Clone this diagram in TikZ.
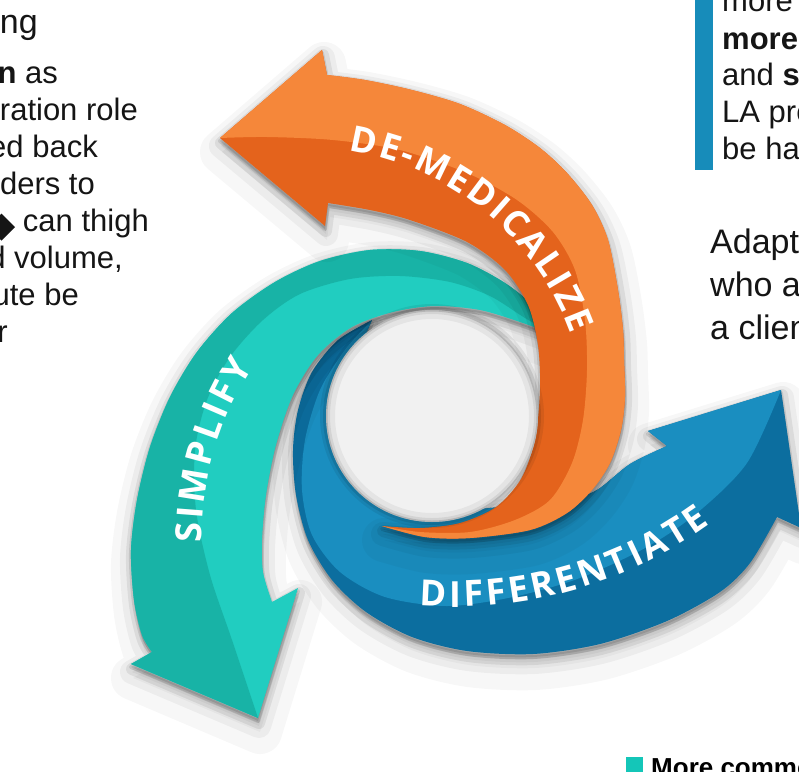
\documentclass[tikz,border=0pt]{standalone}
\usepackage{fontspec}
\setmainfont{Liberation Sans}
\newfontfamily\bandfont{Open Sans}
\usetikzlibrary{decorations.text}

\definecolor{orangeLight}{HTML}{F5873A}
\definecolor{orangeDark}{HTML}{E4631C}
\definecolor{tealDark}{HTML}{18B3A6}
\definecolor{tealLight}{HTML}{21CDC0}
\definecolor{blueLight}{HTML}{1A8EC0}
\definecolor{blueDark}{HTML}{0C6E9F}
\definecolor{diskGrey}{HTML}{F1F1F1}
\definecolor{barBlue}{HTML}{178CBA}
\definecolor{squareTeal}{HTML}{14C6B8}
\definecolor{inkText}{HTML}{151515}

\newcommand{\arcfont}{\bandfont\bfseries\fontsize{36pt}{36pt}\selectfont\color{white}}
\newcommand{\bodyfont}{\fontsize{31pt}{31pt}\selectfont\color{inkText}}
\newcommand{\leadfont}{\fontsize{34pt}{34pt}\selectfont\color{inkText}}

% Band outlines, written with y pointing down (used inside a flipped scope)
\newcommand{\OrangeShape}{plot[smooth] coordinates {(382,526) (425,537) (470,538) (530,530) (567,513) (592,490) (610,463) (621,430) (625,397) (624,360) (623,330) (618,290) (608,240) (592,205) (567,173) (540,148) (505,125) (460,104) (412,90) (365,80) (327,75)} -- (322,50) -- (220,138) -- (325,226) -- (328,203) -- plot[smooth] coordinates {(328,203) (370,210) (410,220) (467,242) (505,270) (528,305) (538,345) (540,390) (535,440) (521,479) (496,507) (460,523) (420,528) (382,526)} -- cycle}
\newcommand{\OrangeLightPart}{plot[smooth] coordinates {(382,526) (425,537) (470,538) (530,530) (567,513) (592,490) (610,463) (621,430) (625,397) (624,360) (623,330) (618,290) (608,240) (592,205) (567,173) (540,148) (505,125) (460,104) (412,90) (365,80) (327,75)} -- (322,50) -- (220,138) -- plot[smooth] coordinates {(220,138) (267,137) (333,140) (400,150) (467,173) (517,200) (553,232) (575,270) (585,320) (587,370) (583,420) (572,463) (550,500) (515,520) (470,532) (420,532) (382,526)} -- cycle}

\newcommand{\TealShape}{plot[smooth] coordinates {(555,335) (532,305) (505,283) (467,263) (420,251) (370,250) (320,261) (275,282) (232,313) (197,352) (170,397) (150,447) (137,500) (131,550) (134,600) (142,635) (152,652)} -- (131,664) -- (258,718) -- (298,588) -- (272,602) -- plot[smooth] coordinates {(272,602) (263,572) (262,540) (266,495) (276,445) (293,395) (318,355) (352,327) (393,312) (435,306) (480,310) (520,322) (555,335)} -- cycle}
\newcommand{\TealDarkPart}{plot[smooth] coordinates {(555,335) (532,305) (505,283) (467,263) (420,251) (370,250) (320,261) (275,282) (232,313) (197,352) (170,397) (150,447) (137,500) (131,550) (134,600) (142,635) (152,652)} -- (131,664) -- (258,718) -- plot[smooth] coordinates {(258,718) (232,640) (210,575) (196,510) (195,450) (207,400) (230,357) (263,320) (300,294) (350,279) (400,276) (450,282) (490,296) (525,318) (555,335)} -- cycle}

\newcommand{\BlueShape}{plot[smooth] coordinates {(372,320) (338,340) (312,372) (298,410) (293,450) (296,495) (308,540) (332,580) (366,612) (412,637) (467,651) (533,654) (600,644) (667,621) (720,592) (750,563) (777,517)} -- (801,528) -- (781,390) -- (648,431) -- (667,446) -- plot[smooth] coordinates {(667,446) (630,464) (597,490) (565,502) (530,505) (490,508) (450,512) (405,505) (365,480) (342,440) (344,390) (372,320)} -- cycle}
\newcommand{\BlueLightPart}{plot[smooth] coordinates {(372,320) (344,390) (342,440) (365,480) (405,505) (450,512) (490,508) (530,505) (565,502) (597,490) (630,464) (667,446)} -- (648,431) -- (781,390) -- plot[smooth] coordinates {(781,390) (747,463) (697,513) (647,547) (580,578) (513,597) (447,606) (385,597) (340,572) (312,535) (302,490) (305,440) (320,390) (345,350) (372,320)} -- cycle}

\tikzset{
  haze layer/.style={fill=black, draw=black, line join=round, opacity=#1},
  bodytext/.style={inner sep=0pt, font=\bodyfont},
  leadtext/.style={inner sep=0pt, font=\leadfont},
  bandlabel/.style={decorate, decoration={text along path, text={|\arcfont|#1}, text align={fit to path=true}}},
}

% soft blurred shadow under a band
\newcommand{\dropshade}[1]{%
  \path[haze layer=0.03, line width=44, shift={(2,14)}] #1;
  \path[haze layer=0.045, line width=24, shift={(1,8)}] #1;
  \path[haze layer=0.07, line width=12, shift={(1,5)}] #1;
  \path[haze layer=0.1, line width=4, shift={(0,3)}] #1;
}

\begin{document}
\begin{tikzpicture}[x=1pt,y=1pt]
\useasboundingbox (0,0) rectangle (799,-771);
\clip (0,0) rectangle (799,-771);
\fill[white] (0,0) rectangle (799,-771);

% the three swirling bands and the centre disk
\begin{scope}[yscale=-1]
  \dropshade{\BlueShape}
  \fill[blueDark] \BlueShape;
  \fill[blueLight] \BlueLightPart;
  \dropshade{\TealShape}
  \fill[tealLight] \TealShape;
  \fill[tealDark] \TealDarkPart;
  \dropshade{\OrangeShape}
  \fill[orangeDark] \OrangeShape;
  \fill[orangeLight] \OrangeLightPart;
  \fill[black, opacity=0.07] (432,416) circle (112);
  \fill[black, opacity=0.1] (432,416) circle (109);
  \fill[diskGrey] (432,416) circle (106);
  \begin{scope}
    \clip (432,416) circle (106);
    \draw[black, opacity=0.05, line width=18] (432,416) circle (106);
    \draw[black, opacity=0.07, line width=8] (432,416) circle (106);
    \draw[black, opacity=0.14, line width=3] (432,416) circle (106);
  \end{scope}
\end{scope}

% band labels
\begin{scope}[shift={(304,-431)}]
  \path[bandlabel=DE-MEDICALIZE] (81:284) arc[start angle=81, end angle=20, radius=284];
\end{scope}
\begin{scope}[shift={(510,-537)}]
  \path[bandlabel=SIMPLIFY] (181:308) arc[start angle=181, end angle=146.5, radius=308];
\end{scope}
\begin{scope}[shift={(454,-171)}]
  \path[bandlabel=DIFFERENTIATE] (-94.5:436) arc[start angle=-94.5, end angle=-54, radius=436];
\end{scope}

% left column of text
\node[leadtext, anchor=base east] (headL) at (38,-33) {ng};
\node[bodytext, anchor=base east] (l1) at (58,-83) {\textbf{on} as};
\node[bodytext, anchor=base east] (l2) at (138,-120) {ration role};
\node[bodytext, anchor=base east] (l3) at (98,-157) {ed back};
\node[bodytext, anchor=base east] (l4) at (95,-194) {ders to};
\node[bodytext, anchor=base east] (l5) at (149,-231) {can thigh};
\node[bodytext, anchor=base east] (l6) at (123,-268) {d volume,};
\node[bodytext, anchor=base east] (l7) at (79,-305) {ute be};
\node[bodytext, anchor=base east] (l8) at (8,-342) {r};
\fill[inkText] (15,-227) -- (1.5,-213.5) -- (-12,-227) -- (1.5,-240.5) -- cycle;

% right column of text
\fill[barBlue] (695,0) rectangle (713,-170);
\node[bodytext, anchor=base west] (r1) at (722,-12) {more};
\node[bodytext, anchor=base west] (r2) at (722,-49) {\textbf{more}};
\node[bodytext, anchor=base west] (r3) at (722,-85) {and \textbf{st}};
\node[bodytext, anchor=base west] (r4) at (722,-122) {LA pro};
\node[bodytext, anchor=base west] (r5) at (722,-159) {be ha};
\node[leadtext, anchor=base west] (a1) at (710,-253) {Adapt};
\node[leadtext, anchor=base west] (a2) at (710,-296) {who a};
\node[leadtext, anchor=base west] (a3) at (710,-339) {a client};

% bottom legend entry
\fill[squareTeal] (626,-757) rectangle (643,-776);
\node[inner sep=0pt, anchor=base west, font=\fontsize{26pt}{26pt}\selectfont\bfseries] (legend) at (651,-776) {More common};
\end{tikzpicture}
\end{document}
